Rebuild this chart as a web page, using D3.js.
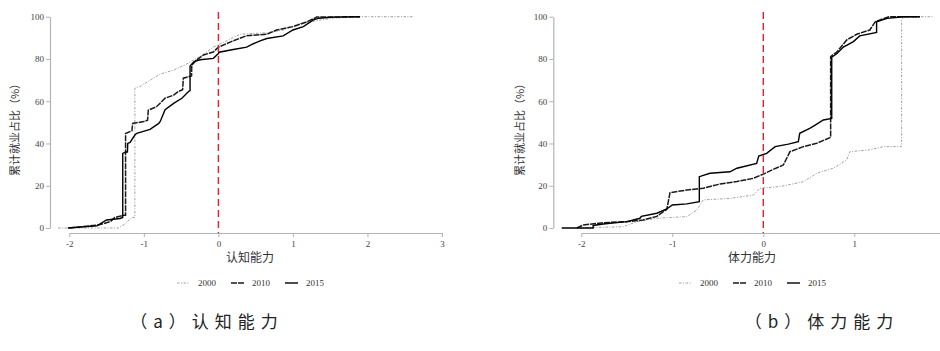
<!DOCTYPE html>
<html>
<head>
<meta charset="utf-8">
<script src="https://cdn.jsdelivr.net/npm/d3@7"></script>
<style>
  body { margin: 0; background: #fff; }
  svg text { font-family: "Liberation Serif", "Times New Roman", serif; }
  svg text.cjk { font-family: "Noto Sans CJK SC", "Noto Sans", sans-serif; }
</style>
</head>
<body>
<svg id="chart" width="940" height="351"></svg>
<script>
// Cumulative employment share vs ability score, two panels

const years = ["2000", "2010", "2015"];
const yTicks = [0, 20, 40, 60, 80, 100];
const cogTicks = [-2, -1, 0, 1, 2, 3];
const phyTicks = [-2, -1, 0, 1];

// (a) cognitive ability
const cog2000X = [-2.15, -1.34, -1.25, -1.16, -1.12, -1.12, -1.05, -0.78, -0.6, -0.42, -0.29, -0.18, -0.067, 0.11, 0.29, 0.65, 0.87, 1.1, 1.37, 1.54, 1.9, 2.62];
const cog2000Y = [0, 0, 2, 5, 5, 66.2, 67, 72.9, 74.7, 77.7, 80.3, 82.6, 85.6, 88.6, 91.7, 92.4, 93.7, 96.8, 98.4, 99.3, 100, 100];
const cog2010X = [-2.0, -1.6, -1.45, -1.39, -1.27, -1.245, -1.245, -1.16, -1.15, -1.0, -0.95, -0.94, -0.83, -0.715, -0.6, -0.537, -0.48, -0.47, -0.4, -0.36, -0.357, -0.29, -0.2, -0.067, 0, 0.2, 0.38, 0.65, 0.78, 1.0, 1.19, 1.32, 1.9];
const cog2010Y = [0, 1.5, 3, 5, 6, 6, 44.7, 46, 49.5, 50.4, 51, 55.8, 57.4, 61.4, 62.9, 64.6, 65.4, 70.9, 71.6, 72, 77, 79.6, 81.9, 83.3, 85.6, 88.6, 91, 91.7, 93.7, 95.3, 97.6, 99.8, 100];
const cog2015X = [-2.02, -1.63, -1.5, -1.32, -1.283, -1.283, -1.24, -1.22, -1.216, -1.185, -1.12, -1.095, -0.917, -0.8, -0.78, -0.715, -0.6, -0.49, -0.4, -0.38, -0.38, -0.326, -0.246, -0.067, 0, 0.01, 0.2, 0.38, 0.47, 0.56, 0.65, 0.87, 1.0, 1.14, 1.275, 1.35, 1.54, 1.9];
const cog2015Y = [0, 1, 3.8, 4.5, 5, 35.3, 36, 36, 40, 40.5, 44, 44.8, 46.7, 49.5, 50.4, 56, 59, 61.4, 64.6, 65, 76.7, 78.8, 79.6, 80.3, 82.6, 83.2, 84.5, 85.6, 87.2, 88.6, 89.7, 90.9, 93.7, 95.3, 98.5, 99.3, 99.8, 100];

// (b) physical ability
const phy2000X = [-2.02, -1.54, -1.39, -1.17, -0.84, -0.73, -0.66, -0.366, -0.11, -0.037, 0.18, 0.44, 0.587, 0.77, 0.917, 0.95, 1.17, 1.32, 1.52, 1.52, 1.55, 1.87];
const phy2000Y = [0, 0.6, 3, 4.6, 5.4, 8.5, 13.3, 14, 15.6, 18.8, 19.6, 21.9, 25.9, 28.3, 32.2, 36.1, 37, 38.5, 38.5, 98.4, 100, 100];
const phy2010X = [-2.05, -1.98, -1.76, -1.5, -1.32, -1.17, -1.06, -1.025, -0.84, -0.66, -0.476, -0.29, -0.11, 0, 0.092, 0.22, 0.293, 0.44, 0.587, 0.74, 0.74, 0.81, 0.917, 1.026, 1.17, 1.23, 1.38, 1.72];
const phy2010Y = [0, 1.4, 2.5, 3, 3.8, 5.5, 8.9, 16.7, 18, 18.8, 20.8, 22, 23.5, 25.5, 27.4, 29.8, 36.1, 38.5, 40.1, 42.9, 81.1, 83.4, 89, 91.7, 93.7, 97.6, 100, 100];
const phy2015X = [-2.215, -1.87, -1.87, -1.76, -1.5, -1.355, -1.34, -1.17, -1.06, -1.0, -0.84, -0.703, -0.703, -0.586, -0.366, -0.29, -0.073, -0.05, 0.037, 0.13, 0.275, 0.385, 0.4, 0.51, 0.57, 0.66, 0.752, 0.752, 0.81, 0.88, 0.99, 1.06, 1.245, 1.245, 1.36, 1.54, 1.72];
const phy2015Y = [0, 0, 1.2, 1.9, 3, 4.6, 5.5, 7, 9, 10.9, 11.4, 12.5, 24.3, 25.9, 26.6, 28.3, 30.6, 34, 35.3, 38.5, 39.7, 40.9, 44.8, 47.2, 48.7, 51.1, 51.9, 80.8, 82.6, 85.6, 88.2, 90.9, 92.6, 97.6, 99.2, 100, 100];

const lineStyles = {
  "2000": { stroke: "#a0a0a0", width: 1, dash: "2.5,1.5,1,1.5" },
  "2010": { stroke: "#1a1a1a", width: 1.5, dash: "6,1" },
  "2015": { stroke: "#000", width: 1.4, dash: null },
};

const panels = [
  {
    xDomain: [-2, 3], xRange: [69.3, 442], xTicks: cogTicks, yAxisX: 50,
    title: "认知能力", ylab: "累计就业占比（%）", ylabX: 15, center: 250,
    caption: "（a）认知能力", captionX: 207,
    series: [[cog2000X, cog2000Y], [cog2010X, cog2010Y], [cog2015X, cog2015Y]],
  },
  {
    xDomain: [-2, 2], xRange: [581.3, 945.3], xTicks: phyTicks, yAxisX: 553.3,
    title: "体力能力", ylab: "累计就业占比（%）", ylabX: 520, center: 752,
    caption: "（b）体力能力", captionX: 822,
    series: [[phy2000X, phy2000Y], [phy2010X, phy2010Y], [phy2015X, phy2015Y]],
  },
];

const svg = d3.select("#chart");
const yTop = 16.7, yBottom = 228, xAxisY = 233;

const y = d3.scaleLinear().domain([0, 100]).range([yBottom, yTop]);
const fmt = (d) => String(d); // plain hyphen minus, no decimals

function styleAxis(g) {
  g.attr("font-family", "Liberation Serif").attr("font-size", 9);
  g.select(".domain").attr("stroke", "#b3b3b3").attr("stroke-width", 1.2);
  g.selectAll(".tick line").attr("stroke", "#b3b3b3");
  g.selectAll(".tick text").attr("fill", "#444");
}

panels.forEach((p) => {
  const x = d3.scaleLinear().domain(p.xDomain).range(p.xRange);
  const g = svg.append("g");

  // x axis
  const xAxisG = g.append("g")
    .attr("transform", `translate(0,${xAxisY})`)
    .call(d3.axisBottom(x).tickValues(p.xTicks).tickFormat(fmt)
      .tickSize(4).tickSizeOuter(0).tickPadding(4));
  styleAxis(xAxisG);

  // y axis
  const yAxisG = g.append("g")
    .attr("transform", `translate(${p.yAxisX},0)`)
    .call(d3.axisLeft(y).tickValues(yTicks).tickFormat(fmt)
      .tickSize(4).tickSizeOuter(0).tickPadding(2));
  styleAxis(yAxisG);

  // curves
  const line = d3.line().x((d) => x(d[0])).y((d) => y(d[1]));
  p.series.forEach((s, i) => {
    const st = lineStyles[years[i]];
    g.append("path")
      .datum(d3.zip(s[0], s[1]))
      .attr("fill", "none")
      .attr("stroke", st.stroke)
      .attr("stroke-width", st.width)
      .attr("stroke-dasharray", st.dash)
      .attr("d", line);
  });

  // reference line at 0
  g.append("line")
    .attr("x1", x(0)).attr("x2", x(0))
    .attr("y1", 12).attr("y2", xAxisY)
    .attr("stroke", "#e8202a")
    .attr("stroke-width", 1.4)
    .attr("stroke-dasharray", "7,4");

  // axis titles
  g.append("text")
    .attr("class", "cjk")
    .attr("x", p.center).attr("y", 258)
    .attr("dy", "0.35em")
    .attr("text-anchor", "middle")
    .attr("font-size", 12)
    .attr("fill", "#333")
    .text(p.title);

  g.append("text")
    .attr("class", "cjk")
    .attr("transform", `translate(${p.ylabX},127) rotate(-90)`)
    .attr("dy", "0.35em")
    .attr("text-anchor", "middle")
    .attr("font-size", 11)
    .attr("fill", "#333")
    .text(p.ylab);

  // legend
  const legend = g.append("g").attr("transform", `translate(${p.center - 73},283)`);
  years.forEach((yr, i) => {
    const st = lineStyles[yr];
    const ox = i * 54;
    legend.append("line")
      .attr("x1", ox).attr("x2", ox + 13)
      .attr("stroke", st.stroke)
      .attr("stroke-width", st.width)
      .attr("stroke-dasharray", st.dash);
    legend.append("text")
      .attr("x", ox + 21)
      .attr("dy", "0.35em")
      .attr("font-size", 9)
      .attr("fill", "#333")
      .text(yr);
  });

  // caption
  g.append("text")
    .attr("class", "cjk")
    .attr("x", p.captionX).attr("y", 322)
    .attr("dy", "0.35em")
    .attr("text-anchor", "middle")
    .attr("font-size", 17)
    .attr("letter-spacing", "6px")
    .attr("fill", "#222")
    .text(p.caption);
});
</script>
</body>
</html>
